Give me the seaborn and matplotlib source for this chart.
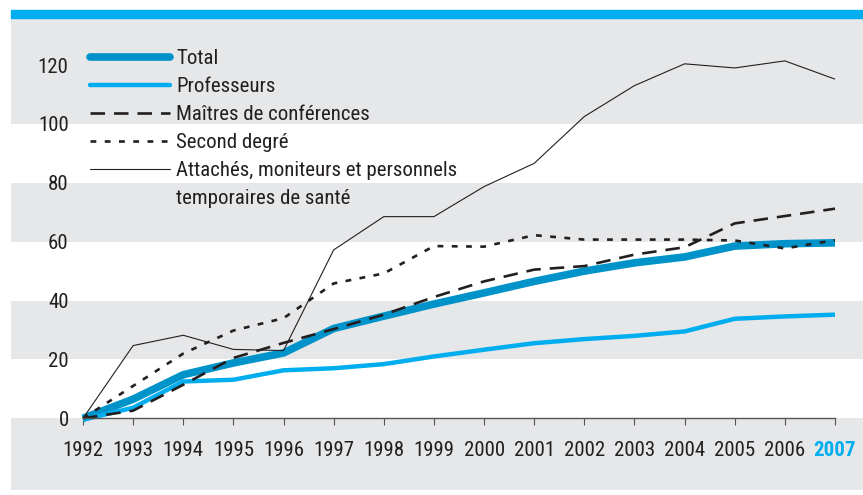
import numpy as np
import matplotlib
matplotlib.use("Agg")
import matplotlib.pyplot as plt
from matplotlib.lines import Line2D
from matplotlib.patches import Rectangle
import seaborn as sns
import pandas as pd

years = list(range(1992, 2008))
total = [0, 6.5, 14.8, 18.8, 22.2, 30.5, 34.7, 38.8, 42.6, 46.5, 50.0, 52.8, 54.8, 58.5, 59.3, 59.6]
professeurs = [-0.5, 3.6, 12.5, 13.1, 16.3, 17.0, 18.4, 21.0, 23.3, 25.5, 26.9, 28.0, 29.5, 33.8, 34.6, 35.2]
maitres = [0, 2.6, 11.4, 20.5, 25.6, 30.3, 35.2, 41.2, 46.5, 50.5, 51.7, 55.6, 58.1, 66.2, 68.7, 71.2]
second = [0, 11.0, 22.0, 29.8, 34.0, 45.8, 49.2, 58.5, 58.3, 62.2, 60.7, 60.7, 60.7, 60.4, 57.7, 60.5]
attaches = [0, 24.7, 28.2, 23.4, 23.0, 57.2, 68.5, 68.5, 78.7, 86.6, 102.5, 113.0, 120.4, 119.0, 121.4, 115.2]

labels = ["Total", "Professeurs", "Maîtres de conférences", "Second degré",
          "Attachés, moniteurs et personnels"]
extra_label = "temporaires de santé"

sns.set_style("white")
plt.rcParams["font.family"] = ["Roboto Condensed", "Liberation Sans Narrow", "Roboto", "DejaVu Sans"]

dark = "#231f20"
blue = "#0093c9"
light = "#00aeef"
grey = "#e6e7e9"
fs = 15

fig = plt.figure(figsize=(8.63, 4.95), dpi=100)
W, H = 863, 495
ax = fig.add_axes([11 / W, 5 / H, (W - 11) / W, (490 - 17.7) / H])
fig.patches.append(Rectangle((11 / W, 1 - 17.7 / H), (W - 11) / W, 7.7 / H,
                             transform=fig.transFigure, color=light, zorder=0))

ax.set_facecolor(grey)
for lo, hi in [(0, 20), (40, 60), (80, 100)]:
    ax.axhspan(lo, hi, color="white", lw=0, zorder=0)

styles = [
    dict(color=blue, lw=5.5, dashes=None),
    dict(color=light, lw=3.2, dashes=None),
    dict(color=dark, lw=1.9, dashes=(5.5, 3.4)),
    dict(color=dark, lw=1.9, dashes=(2.2, 3.2)),
    dict(color=dark, lw=0.8, dashes=None),
]
series = [total, professeurs, maitres, second, attaches]
handles = []
for vals, lab, st in zip(series, labels, styles):
    df = pd.DataFrame({"year": years, "value": vals})
    sns.lineplot(data=df, x="year", y="value", ax=ax, color=st["color"], lw=st["lw"],
                 legend=False, solid_capstyle="butt", solid_joinstyle="round")
    line = ax.lines[-1]
    if st["dashes"]:
        line.set_dashes(st["dashes"])
    h = Line2D([], [], color=st["color"], lw=st["lw"])
    if st["dashes"]:
        h.set_dashes(st["dashes"])
    handles.append(h)
handles.append(Line2D([], [], color="none"))

ax.set_xlim(1992 - 72 / 50.13, 2007 + 28 / 50.13)
ax.set_ylim(-(490 - 418.3) / 2.944, 120 + (65 - 17.7) / 2.944)
ax.set_xlabel("")
ax.set_ylabel("")

for s in ["top", "right", "left"]:
    ax.spines[s].set_visible(False)
ax.spines["bottom"].set_position(("data", 0))
ax.spines["bottom"].set_bounds(1992, 2007)
ax.spines["bottom"].set_color("#555555")
ax.spines["bottom"].set_linewidth(1)

ax.set_xticks(years)
ax.set_xticklabels([str(y) for y in years])
ax.tick_params(axis="x", direction="out", length=5, width=0.8, color="#555555",
               pad=11.5, labelsize=fs, labelcolor=dark, bottom=True)
lbl = ax.get_xticklabels()[-1]
lbl.set_color(light)
lbl.set_fontweight("bold")

ax.set_yticks([0, 20, 40, 60, 80, 100, 120])
ax.tick_params(axis="y", length=0, pad=-41.5, labelsize=fs, labelcolor=dark, left=True)

leg = ax.legend(handles, labels + [extra_label], loc="upper left",
                bbox_to_anchor=(79 / (W - 11), 1 - (49 - 17.7) / (490 - 17.7)),
                frameon=False, fontsize=fs, handlelength=3.85, handletextpad=0.3,
                labelspacing=0.43, borderaxespad=0, borderpad=0)
for t in leg.get_texts():
    t.set_color(dark)

fig.savefig("out.png", dpi=100, facecolor="white")
